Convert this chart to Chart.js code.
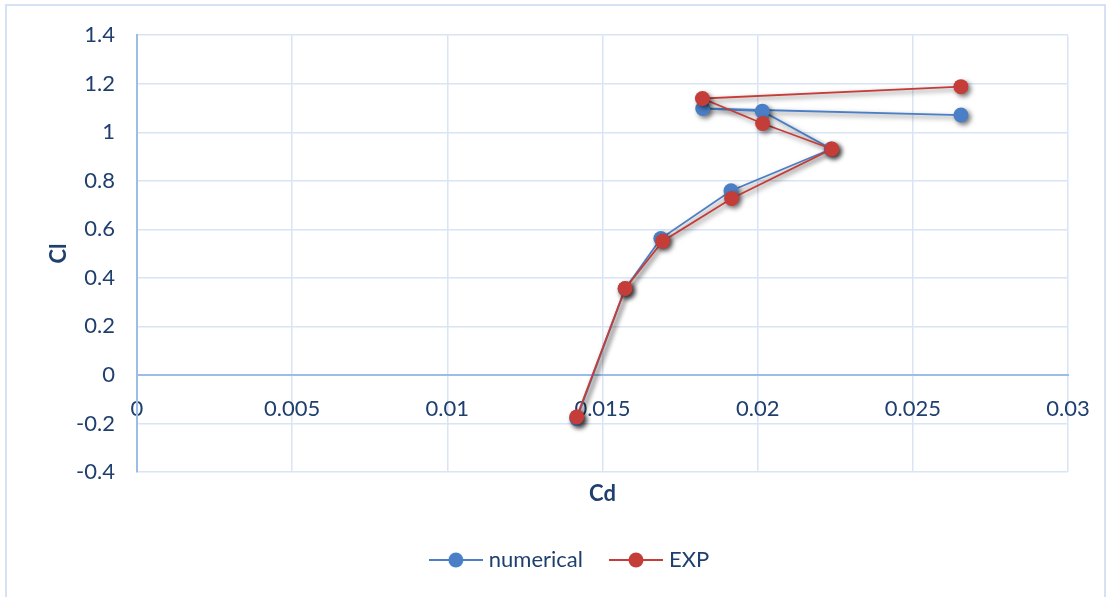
<!DOCTYPE html>
<html><head><meta charset="utf-8">
<script src="https://cdn.jsdelivr.net/npm/chart.js@4.4.1/dist/chart.umd.min.js"></script>
<style>
html,body{margin:0;padding:0;background:#fff;}
#wrap{position:absolute;left:0;top:0;width:1111px;height:597px;}
#frame{position:absolute;left:5px;top:4px;width:1101px;height:600px;border:2px solid #D6E2F3;box-sizing:border-box;pointer-events:none;}
</style></head>
<body>
<div id="wrap"><canvas id="c" width="1111" height="597"></canvas></div>
<div id="frame"></div>
<script>
// Data
const seriesNames = ['numerical', 'EXP'];
const cdNumerical = [0.01417, 0.01573, 0.01688, 0.01914, 0.02237, 0.02015, 0.01823, 0.02655];
const clNumerical = [-0.180, 0.355, 0.562, 0.759, 0.931, 1.087, 1.098, 1.071];
const cdExp = [0.01417, 0.01573, 0.01694, 0.01916, 0.02239, 0.02016, 0.01822, 0.02655];
const clExp = [-0.173, 0.356, 0.551, 0.727, 0.931, 1.036, 1.139, 1.188];
const xAxisTitle = 'Cd';
const yAxisTitle = 'Cl';

const BLUE = '#4A7EC6';
const RED = '#C53D39';
const GRID = '#D9E4F4';
const AXIS = '#9CBDE8';
const TXT = '#1F3F6E';
const FONT = 'Lato, "Open Sans", sans-serif';
const FS = 22;

function pts(xs, ys){ return xs.map((x,i)=>({x:x, y:ys[i]})); }

function legendImg(color){
  const c = document.createElement('canvas');
  c.width = 54; c.height = 18;
  const g = c.getContext('2d');
  g.strokeStyle = color; g.lineWidth = 2;
  g.beginPath(); g.moveTo(0,9); g.lineTo(54,9); g.stroke();
  g.fillStyle = color;
  g.beginPath(); g.arc(27,9,7.5,0,Math.PI*2); g.fill();
  return c;
}
const legImgs = [legendImg(BLUE), legendImg(RED)];

const shadowPlugin = {
  id:'shadow',
  beforeDatasetDraw(chart){ const ctx=chart.ctx; ctx.save(); ctx.shadowColor='rgba(0,0,0,0.55)'; ctx.shadowBlur=5; ctx.shadowOffsetX=2.5; ctx.shadowOffsetY=2.5; },
  afterDatasetDraw(chart){ chart.ctx.restore(); }
};

// centre the legend row a little right of the canvas centre, as in the reference
const legendShift = {
  id:'legendShift',
  beforeDraw(chart){ if (chart.legend) { chart.legend.left = 75; } }
};

const fmt = v => String(+Number(v).toFixed(4));

new Chart(document.getElementById('c'), {
  type:'scatter',
  data:{
    datasets:[
      {label:seriesNames[0], data:pts(cdNumerical, clNumerical), showLine:true, borderColor:BLUE, backgroundColor:BLUE,
       borderWidth:1.8, pointRadius:7.5, pointHoverRadius:7.5, pointBorderWidth:0, order:1},
      {label:seriesNames[1], data:pts(cdExp, clExp), showLine:true, borderColor:RED, backgroundColor:RED,
       borderWidth:1.8, pointRadius:7.5, pointHoverRadius:7.5, pointBorderWidth:0, order:0}
    ]
  },
  options:{
    responsive:false, animation:false,
    layout:{padding:{top:34, right:43, left:0, bottom:16}},
    plugins:{
      tooltip:{enabled:false},
      legend:{
        position:'bottom',
        labels:{
          usePointStyle:true, pointStyleWidth:44, boxHeight:18, padding:31,
          color:TXT, font:{family:FONT, size:FS},
          generateLabels(chart){
            return seriesNames.map((n,i)=>({text:n, pointStyle:legImgs[i], fillStyle:i?RED:BLUE, strokeStyle:i?RED:BLUE, lineWidth:0, hidden:false, datasetIndex:i, fontColor:TXT}));
          }
        }
      }
    },
    scales:{
      x:{
        type:'linear', position:'bottom', min:0, max:0.03,
        ticks:{display:false, stepSize:0.005},
        grid:{color:GRID, lineWidth:1.5, drawTicks:false},
        border:{display:false},
        title:{display:true, text:xAxisTitle, color:TXT, font:{family:FONT, size:FS, weight:'bold'}, padding:{top:0,bottom:11}},
        afterFit(s){ s.height = 46; }
      },
      x2:{
        type:'linear', position:{y:0}, min:0, max:0.03, axis:'x',
        ticks:{stepSize:0.005, color:TXT, font:{family:FONT, size:FS}, padding:21, callback:fmt},
        grid:{display:false, drawTicks:false},
        border:{display:true, color:AXIS, width:2}
      },
      y:{
        type:'linear', position:'left', min:-0.4, max:1.4,
        ticks:{stepSize:0.2, color:TXT, font:{family:FONT, size:FS}, padding:22, callback:fmt},
        grid:{color:GRID, lineWidth:1.5, drawTicks:false},
        border:{display:true, color:AXIS, width:2},
        title:{display:true, text:yAxisTitle, color:TXT, font:{family:FONT, size:FS, weight:'bold'}, padding:{top:46,bottom:0}},
        afterFit(s){ s.width = 137; }
      }
    }
  },
  plugins:[shadowPlugin, legendShift]
});
</script>
</body></html>
